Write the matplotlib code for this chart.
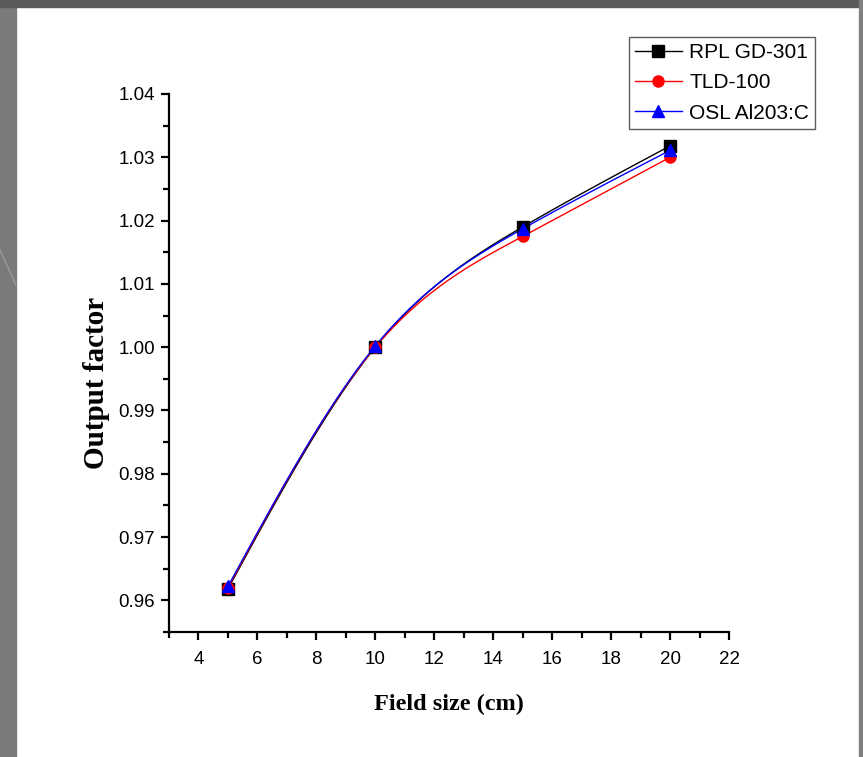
import numpy as np
import matplotlib
matplotlib.use('Agg')
import matplotlib.pyplot as plt
from matplotlib.patches import Rectangle
from matplotlib.lines import Line2D

# field sizes and output factors
field_size = [5, 10, 15, 20]
rpl_gd301 = [0.9618, 1.0000, 1.0190, 1.0318]
tld_100 = [0.9620, 1.0000, 1.0175, 1.0300]
osl_al2o3 = [0.9622, 1.0002, 1.0187, 1.0311]

x_ticks = [4, 6, 8, 10, 12, 14, 16, 18, 20, 22]
y_ticks = [0.96, 0.97, 0.98, 0.99, 1.00, 1.01, 1.02, 1.03, 1.04]


# natural cubic spline so the lines bend like the Origin plot
def smooth(xs, ys, n=200):
    xs = np.asarray(xs, float)
    ys = np.asarray(ys, float)
    k = len(xs)
    h = np.diff(xs)
    A = np.zeros((k, k))
    b = np.zeros(k)
    A[0, 0] = 1
    A[-1, -1] = 1
    for i in range(1, k - 1):
        A[i, i - 1] = h[i - 1]
        A[i, i] = 2 * (h[i - 1] + h[i])
        A[i, i + 1] = h[i]
        b[i] = 6 * ((ys[i + 1] - ys[i]) / h[i] - (ys[i] - ys[i - 1]) / h[i - 1])
    M = np.linalg.solve(A, b)
    xx = np.linspace(xs[0], xs[-1], n)
    yy = np.empty_like(xx)
    for j, x in enumerate(xx):
        i = min(np.searchsorted(xs, x, side='right') - 1, k - 2)
        t1 = xs[i + 1] - x
        t0 = x - xs[i]
        yy[j] = (M[i] * t1 ** 3 + M[i + 1] * t0 ** 3) / (6 * h[i]) \
            + (ys[i] / h[i] - M[i] * h[i] / 6) * t1 \
            + (ys[i + 1] / h[i] - M[i + 1] * h[i] / 6) * t0
    return xx, yy


fig = plt.figure(figsize=(8.63, 7.57), dpi=100)
fig.patch.set_facecolor('white')

# grey slide border around the white panel
W, H = 863, 757
fig.patches.append(Rectangle((0, 0), 16 / W, 1, transform=fig.transFigure, color='#7a7a7a', zorder=0))
fig.patches.append(Rectangle((0, 1 - 7 / H), 1, 7 / H, transform=fig.transFigure, color='#5a5a5a', zorder=0))
fig.patches.append(Rectangle((859 / W, 0), 4 / W, 1, transform=fig.transFigure, color='#808080', zorder=0))
fig.lines.append(Line2D([0, 16 / W], [1 - 250 / H, 1 - 285 / H], transform=fig.transFigure,
                        color='#9a9a9a', lw=1))

ax = fig.add_axes([169 / W, 1 - 632 / H, (729 - 169) / W, (632 - 94) / H])

xs, ys = smooth(field_size, rpl_gd301)
ax.plot(xs, ys, color='black', lw=1)
xs, ys = smooth(field_size, tld_100)
ax.plot(xs, ys, color='red', lw=1)
xs, ys = smooth(field_size, osl_al2o3)
ax.plot(xs, ys, color='blue', lw=1)

ax.plot(field_size, rpl_gd301, 's', color='black', ms=8, zorder=3)
ax.plot(field_size, tld_100, 'o', color='red', ms=8, zorder=4)
ax.plot(field_size, osl_al2o3, '^', color='blue', ms=9, zorder=5)

h1 = Line2D([], [], color='black', lw=1, marker='s', ms=8)
h2 = Line2D([], [], color='red', lw=1, marker='o', ms=8)
h3 = Line2D([], [], color='blue', lw=1, marker='^', ms=9)
leg = fig.legend([h1, h2, h3], ['RPL GD-301', 'TLD-100', 'OSL Al203:C'],
                 loc='upper left', bbox_to_anchor=(629 / W, 1 - 37 / H),
                 prop={'family': 'Liberation Sans', 'size': 15},
                 fancybox=False, frameon=True, borderpad=0.28, labelspacing=0.55,
                 handlelength=2.25, handletextpad=0.35, borderaxespad=0)
leg.get_frame().set_edgecolor('#333333')
leg.get_frame().set_linewidth(1)

ax.set_xlim(3, 22)
ax.set_ylim(0.955, 1.04)
ax.set_xticks(x_ticks)
ax.set_yticks(y_ticks)
ax.set_xticks(np.arange(3, 22, 2), minor=True)
ax.set_yticks(np.arange(0.955, 1.04, 0.01), minor=True)
ax.set_yticklabels(['%.2f' % v for v in y_ticks])

for side in ['top', 'right']:
    ax.spines[side].set_visible(False)
for side in ['left', 'bottom']:
    ax.spines[side].set_linewidth(1.6)

ax.tick_params(which='major', direction='out', length=6, width=1.6,
               labelsize=13.5)
ax.tick_params(axis='x', which='major', pad=8)
ax.tick_params(axis='y', which='major', pad=4)
ax.tick_params(which='minor', direction='out', length=4, width=1.6)
for lab in ax.get_xticklabels() + ax.get_yticklabels():
    lab.set_family('Liberation Sans')

ax.set_xlabel('Field size (cm)', family='Liberation Serif', fontweight='bold',
              fontsize=17.5)
ax.set_ylabel('Output factor', family='Liberation Serif', fontweight='bold',
              fontsize=21)
ax.xaxis.set_label_coords(0.5, -(694 - 632) / 538)
ax.yaxis.set_label_coords(-(169 - 110) / 560, (632 - 383) / 538)

fig.savefig('out.png', dpi=100)
